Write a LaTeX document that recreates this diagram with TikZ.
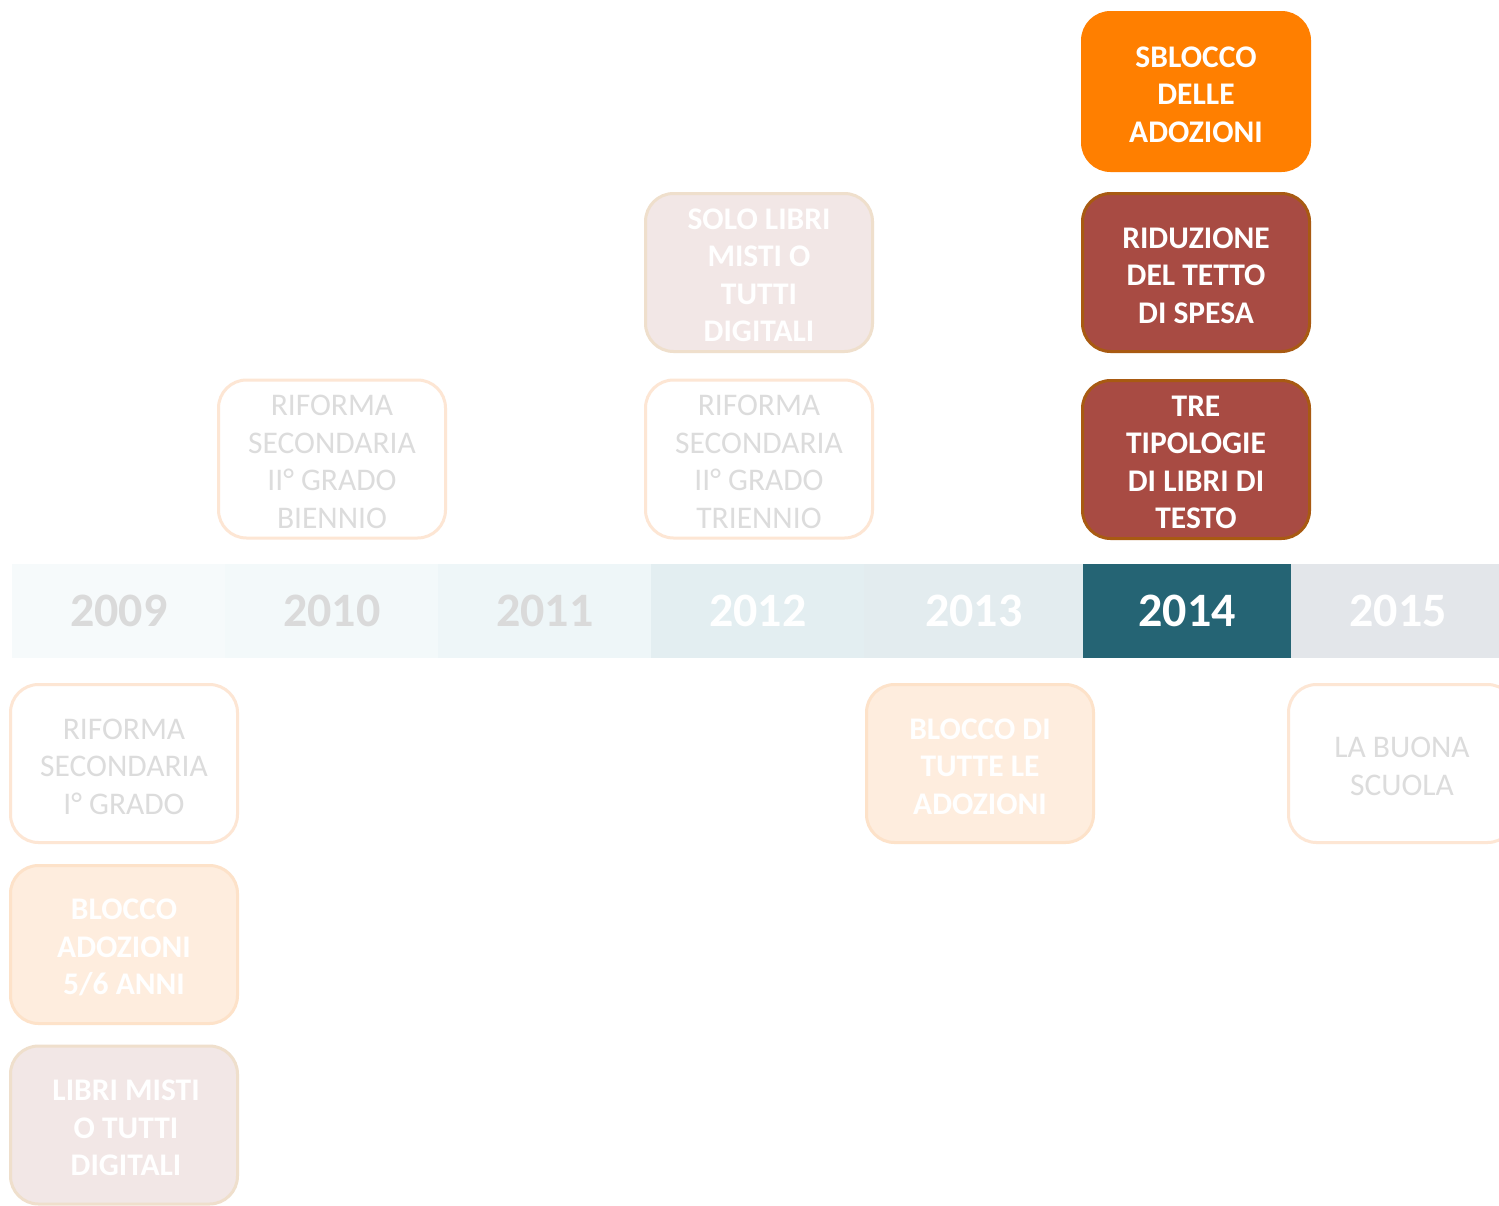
\documentclass[tikz,border=0pt]{standalone}
\usepackage{fontspec}
\setmainfont{Carlito}
\definecolor{yr09}{HTML}{F6FAFB}
\definecolor{yr10}{HTML}{F3F9FA}
\definecolor{yr11}{HTML}{EEF6F8}
\definecolor{yr12}{HTML}{E3EEF1}
\definecolor{yr13}{HTML}{E3ECEF}
\definecolor{yr14}{HTML}{256474}
\definecolor{yr15}{HTML}{E3E6EA}
\definecolor{yrgray}{HTML}{DADADA}
\definecolor{orangebox}{HTML}{FF7F00}
\definecolor{redbox}{HTML}{A84B43}
\definecolor{redborder}{HTML}{A85A12}
\definecolor{pinkbox}{HTML}{F2E7E6}
\definecolor{pinkborder}{HTML}{EFDFCC}
\definecolor{peachbox}{HTML}{FEEDDE}
\definecolor{peachborder}{HTML}{FDE2C9}
\definecolor{wborder}{HTML}{FDE6D4}
\definecolor{graytext}{HTML}{DCDCDC}
\begin{document}
\begin{tikzpicture}[x=1pt,y=-1pt,
  yearseg/.style={rectangle, inner sep=0pt, minimum height=94pt, anchor=north west,
    font=\fontsize{48}{58}\selectfont\bfseries},
  boxbase/.style={rectangle, rounded corners=28pt, line width=3pt, inner sep=0pt,
    minimum width=227pt, minimum height=158pt},
  hotbox/.style={boxbase, fill=orangebox, draw=orangebox},
  redbx/.style={boxbase, fill=redbox, draw=redborder},
  pinkbx/.style={boxbase, fill=pinkbox, draw=pinkborder},
  peachbx/.style={boxbase, fill=peachbox, draw=peachborder},
  whitebx/.style={boxbase, fill=white, draw=wborder},
  boldtxt/.style={align=center, inner sep=0pt, text=white, yshift=-3pt,
    font=\fontsize{31.5}{37.5}\selectfont\bfseries},
  lighttxt/.style={align=center, inner sep=0pt, text=graytext, yshift=-3pt,
    font=\fontsize{31.5}{37.5}\selectfont}
]
\useasboundingbox (0,0) rectangle (1499,1205);
\fill[white] (0,0) rectangle (1499,1205);

% timeline
\node[yearseg, fill=yr09, minimum width=213pt, text=yrgray] (y09) at (12,564) {2009};
\node[yearseg, fill=yr10, minimum width=213pt, text=yrgray] (y10) at (225,564) {2010};
\node[yearseg, fill=yr11, minimum width=213pt, text=yrgray] (y11) at (438,564) {2011};
\node[yearseg, fill=yr12, minimum width=213pt, text=white] (y12) at (651,564) {2012};
\node[yearseg, fill=yr13, minimum width=219pt, text=white] (y13) at (864,564) {2013};
\node[yearseg, fill=yr14, minimum width=208pt, text=white] (y14) at (1083,564) {2014};
\node[yearseg, fill=yr15, minimum width=214pt, text=white] (y15) at (1291,564) {2015};

% boxes above
\node[hotbox] (sblocco) at (1196,91.5) {};
\node[boldtxt] (sblocco-t) at (sblocco.center) {SBLOCCO\\DELLE\\ADOZIONI};
\node[redbx] (riduzione) at (1196,272.5) {};
\node[boldtxt] (riduzione-t) at (riduzione.center) {RIDUZIONE\\DEL TETTO\\DI SPESA};
\node[redbx] (tre) at (1196,459.5) {};
\node[boldtxt] (tre-t) at (tre.center) {TRE\\TIPOLOGIE\\DI LIBRI DI\\TESTO};
\node[pinkbx] (sololibri) at (759,272.5) {};
\node[boldtxt] (sololibri-t) at (sololibri.center) {SOLO LIBRI\\MISTI O\\TUTTI\\DIGITALI};
\node[whitebx] (riftri) at (759,459) {};
\node[lighttxt] (riftri-t) at (riftri.center) {RIFORMA\\SECONDARIA\\II° GRADO\\TRIENNIO};
\node[whitebx] (rifbi) at (332,459) {};
\node[lighttxt] (rifbi-t) at (rifbi.center) {RIFORMA\\SECONDARIA\\II° GRADO\\BIENNIO};

% boxes below
\node[whitebx] (rifprimo) at (124,763.5) {};
\node[lighttxt] (rifprimo-t) at (rifprimo.center) {RIFORMA\\SECONDARIA\\I° GRADO};
\node[peachbx] (blocco56) at (124,944.5) {};
\node[boldtxt] (blocco56-t) at (blocco56.center) {BLOCCO\\ADOZIONI\\5/6 ANNI};
\node[pinkbx] (librimisti) at (124,1125) {};
\node[boldtxt] (librimisti-t) at ([xshift=2pt]librimisti.center) {LIBRI MISTI\\O TUTTI\\DIGITALI};
\node[peachbx] (bloccotutte) at (980,763.5) {};
\node[boldtxt] (bloccotutte-t) at (bloccotutte.center) {BLOCCO DI\\TUTTE LE\\ADOZIONI};
\node[whitebx] (buona) at (1402,763.5) {};
\node[lighttxt] (buona-t) at (buona.center) {LA BUONA\\SCUOLA};
\end{tikzpicture}
\end{document}
